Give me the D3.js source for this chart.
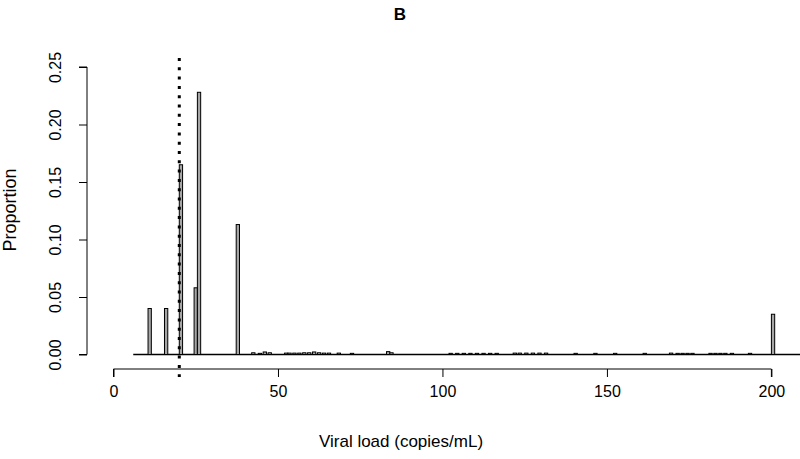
<!DOCTYPE html>
<html>
<head>
  <meta charset="utf-8">
  <script src="https://d3js.org/d3.v7.min.js"></script>
  <style>
    body { margin: 0; background: #fff; }
    text { font-family: "Liberation Sans", Arial, sans-serif; fill: #000; }
  </style>
</head>
<body>
<div id="chart"></div>
<script>
// viral load bins (left edge, copies/mL) and proportion of samples
const loads = [10.5, 15.5, 20, 24.5, 25.5, 37.3,
  42, 44, 45.5, 47, 52, 53, 54.5, 56, 57.5, 59, 60.5, 62, 63.5, 65, 68, 72, 83, 84,
  102, 104, 106, 108, 110, 112, 114, 116, 121.5, 123, 125, 127, 129, 131,
  140, 146, 152, 161, 169, 171, 172.5, 174, 175.5, 181, 182.5, 184, 185.5, 187.5, 193,
  200];
const proportions = [0.040, 0.040, 0.165, 0.058, 0.228, 0.113,
  0.0015, 0.001, 0.0022, 0.0015, 0.0012, 0.0012, 0.0012, 0.0012, 0.0015, 0.0015, 0.0022, 0.0015, 0.0012, 0.0012, 0.0012, 0.001, 0.0025, 0.0015,
  0.001, 0.001, 0.001, 0.001, 0.001, 0.001, 0.001, 0.001, 0.0012, 0.0012, 0.0012, 0.0012, 0.0012, 0.0012,
  0.001, 0.001, 0.001, 0.001, 0.0012, 0.001, 0.001, 0.001, 0.001, 0.001, 0.001, 0.001, 0.001, 0.001, 0.001,
  0.035];
const binRange = [6, 212];          // span of all (mostly empty) bins
const xTicks = [0, 50, 100, 150, 200];
const yTicks = [0, 0.05, 0.10, 0.15, 0.20, 0.25];
const cutoff = 20;                  // limit of detection line

const width = 800, height = 459;
const data = loads.map((v, i) => ({load: v, p: proportions[i]}));

const x = d3.scaleLinear().domain([0, 200]).range([113.5, 771.4]);
const y = d3.scaleLinear().domain([0, 0.25]).range([354.5, 67]);

const svg = d3.select("#chart").append("svg")
    .attr("width", width)
    .attr("height", height);

// title
svg.append("text")
    .attr("x", 400).attr("y", 20)
    .attr("text-anchor", "middle")
    .attr("font-weight", "bold")
    .attr("font-size", 17)
    .text("B");

// baseline made by the empty bins
svg.append("line")
    .attr("x1", x(binRange[0])).attr("x2", x(binRange[1]))
    .attr("y1", y(0)).attr("y2", y(0))
    .attr("stroke", "#000").attr("stroke-width", 1.5);

// bars
svg.append("g")
  .selectAll("rect")
  .data(data)
  .join("rect")
    .attr("x", d => x(d.load))
    .attr("y", d => y(d.p))
    .attr("width", d => x(d.load + 1) - x(d.load))
    .attr("height", d => y(0) - y(d.p))
    .attr("fill", "#a6a6a6")
    .attr("stroke", "#000")
    .attr("stroke-width", 1);

// dotted cutoff line
svg.append("line")
    .attr("x1", x(cutoff)).attr("x2", x(cutoff))
    .attr("y1", 58).attr("y2", 377)
    .attr("stroke", "#000")
    .attr("stroke-width", 3)
    .attr("stroke-dasharray", "3,6.3");

// x axis
const xAxis = svg.append("g")
    .attr("transform", `translate(0,369)`)
    .call(d3.axisBottom(x).tickValues(xTicks).tickSize(8).tickPadding(9).tickFormat(d3.format("d")));
xAxis.selectAll("text").attr("font-size", 16).attr("font-family", "Liberation Sans, Arial, sans-serif");

// y axis
const yAxis = svg.append("g")
    .attr("transform", `translate(87,0)`)
    .call(d3.axisLeft(y).tickValues(yTicks).tickSize(8).tickFormat(d3.format(".2f")));
yAxis.selectAll(".tick text")
    .attr("font-size", 16)
    .attr("font-family", "Liberation Sans, Arial, sans-serif")
    .attr("text-anchor", "middle")
    .attr("x", 0).attr("dy", 0)
    .attr("transform", "translate(-32,0) rotate(-90)")
    .attr("dominant-baseline", "central");

[xAxis, yAxis].forEach(a => {
  a.selectAll("path, line").attr("stroke", "#000").attr("stroke-width", 1);
});
xAxis.select(".domain").attr("d", `M${x(0)},8V0H${x(200)}V8`);
yAxis.select(".domain").attr("d", `M-8,${y(0)}H0V${y(0.25)}H-8`);

// axis titles
svg.append("text")
    .attr("x", 401).attr("y", 447)
    .attr("text-anchor", "middle")
    .attr("font-size", 17)
    .text("Viral load (copies/mL)");

svg.append("text")
    .attr("transform", `translate(16,210) rotate(-90)`)
    .attr("text-anchor", "middle")
    .attr("font-size", 18)
    .text("Proportion");
</script>
</body>
</html>
